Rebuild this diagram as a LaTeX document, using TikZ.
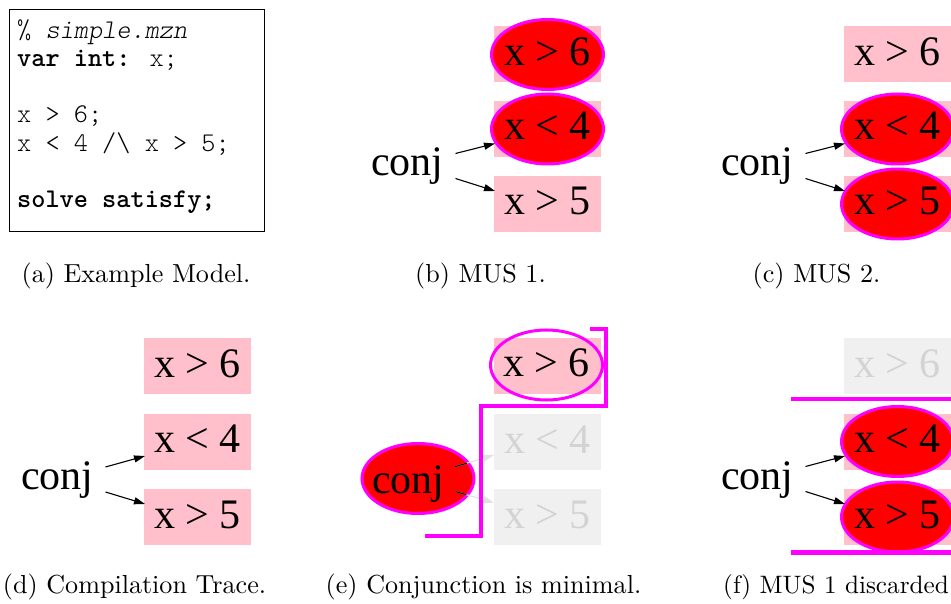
\documentclass[tikz,border=0pt]{standalone}
\usepackage{fontspec}
\usetikzlibrary{arrows.meta,shapes.geometric}
\setmainfont{lmroman10-regular.otf}
\newfontfamily\tms{Liberation Serif}
\newfontfamily\mono{lmmonolt10-regular.otf}[BoldFont=lmmonolt10-bold.otf, ItalicFont=lmmonolt10-oblique.otf]
\definecolor{cpink}{RGB}{255,192,203}
\definecolor{cmag}{RGB}{255,0,255}
\definecolor{cred}{RGB}{255,0,0}
\definecolor{cgbox}{RGB}{240,240,240}
\definecolor{cgtxt}{RGB}{211,211,211}
\definecolor{cgedge}{RGB}{225,225,225}
\newcommand\zw[1]{\makebox[0pt]{#1}}
\begin{document}
\begin{tikzpicture}[x=1pt,y=-1pt,
  gfont/.style={font=\tms\fontsize{42}{46}\selectfont},
  pinkrect/.style={rectangle, fill=cpink, minimum width=107pt, minimum height=56pt, inner sep=0pt},
  cbox/.style={pinkrect, gfont, text height=22pt, text depth=0pt},
  gbox/.style={cbox, fill=cgbox, text=cgtxt},
  hlell/.style={gfont, ellipse, fill=cred, draw=cmag, line width=3pt, minimum width=112pt, minimum height=70pt, inner sep=0pt, text height=22pt, text depth=0pt},
  conjt/.style={gfont, anchor=base, inner sep=0pt},
  arrline/.style={line width=1.1pt, -{Triangle[length=11pt,width=7pt]}},
  garrline/.style={line width=1.1pt, draw=cgedge, -{Triangle[length=11pt,width=7pt,fill=cgedge]}},
  codeline/.style={font=\mono\fontsize{27}{28.3}\selectfont, anchor=base west, inner sep=0pt},
  captxt/.style={font=\fontsize{26.1}{30}\selectfont, anchor=base, inner sep=0pt},
  magline/.style={draw=cmag, line width=4.5pt},
]
\useasboundingbox (0,0) rectangle (951,604);

% (a) code
\draw[line width=1pt] (9.5,9.5) rectangle (264.5,232);
\node[codeline] (l1) at (17,39) {{\upshape\%} \itshape simple.mzn};
\node[codeline] (l2) at (17,67) {\textbf{var int:} x;};
\node[codeline] (l3) at (17,123) {x > 6;};
\node[codeline] (l4) at (17,152) {x < 4 /\textbackslash{} x > 5;};
\node[codeline] (l5) at (17,208) {\textbf{solve satisfy;}};
\node[captxt] (capa) at (136,283) {(a) Example Model.};

% (b) MUS 1
\node[pinkrect] (b6r) at (547.5,54.5) {};
\node[hlell] (b6) at (b6r.center) {\zw{x > 6}};
\node[pinkrect] (b4r) at (547.5,129) {};
\node[hlell] (b4) at (b4r.center) {\zw{x < 4}};
\node[cbox] (b5) at (547.5,204) {x > 5};
\node[conjt] (bc) at (407.5,176) {conj};
\draw[arrline] ([shift={(48,-22.5)}]bc.base) -- ([shift={(-52.5,14.5)}]b4.center);
\draw[arrline] ([shift={(48,2.5)}]bc.base) -- ([shift={(-52.5,-13)}]b5.center);
\node[captxt] (capb) at (480.5,283) {(b) MUS 1.};

% (c) MUS 2
\node[cbox] (c6) at (897.5,54.5) {x > 6};
\node[pinkrect] (c4r) at (897.5,129) {};
\node[hlell] (c4) at (c4r.center) {\zw{x < 4}};
\node[pinkrect] (c5r) at (897.5,204) {};
\node[hlell] (c5) at (c5r.center) {\zw{x > 5}};
\node[conjt] (cc) at (757.5,176) {conj};
\draw[arrline] ([shift={(48,-22.5)}]cc.base) -- ([shift={(-52.5,14.5)}]c4.center);
\draw[arrline] ([shift={(48,2.5)}]cc.base) -- ([shift={(-52.5,-13)}]c5.center);
\node[captxt] (capc) at (816.5,283) {(c) MUS 2.};

% (d) Compilation trace
\node[cbox] (d6) at (197.5,366) {x > 6};
\node[cbox] (d4) at (197.5,441.5) {x < 4};
\node[cbox] (d5) at (197.5,517) {x > 5};
\node[conjt] (dc) at (57.5,489.5) {conj};
\draw[arrline] ([shift={(48,-22.5)}]dc.base) -- ([shift={(-52.5,14.5)}]d4.center);
\draw[arrline] ([shift={(48,2.5)}]dc.base) -- ([shift={(-52.5,-13)}]d5.center);
\node[captxt] (capd) at (134.5,593) {(d) Compilation Trace.};

% (e) Conjunction is minimal
\node[pinkrect] (e6r) at (547.5,366) {};
\node[hlell, fill=none] (e6) at (546.5,365) {\zw{x > 6}};
\node[gbox] (e4) at (547.5,442) {x < 4};
\node[gbox] (e5) at (547.5,517) {x > 5};
\node[hlell, text height=30pt] (ec) at (418,478.5) {\zw{\hspace*{-19pt}conj}};
\draw[garrline] ([shift={(37,-11.8)}]ec.center) -- ([shift={(-53.5,13)}]e4.center);
\draw[garrline] ([shift={(38,13.2)}]ec.center) -- ([shift={(-53.5,-14.3)}]e5.center);
\begin{scope}
  \clip (ec.center) ellipse [x radius=55pt, y radius=33.5pt];
  \draw[line width=1.1pt] ([shift={(37,-11.8)}]ec.center) -- ([shift={(-53.5,13)}]e4.center);
  \draw[line width=1.1pt] ([shift={(38,13.2)}]ec.center) -- ([shift={(-53.5,-14.3)}]e5.center);
\end{scope}
\draw[magline, line width=4pt] (590,329.3) -- (605.7,329.3) -- (605.7,406.3) -- (480.7,406.3) -- (480.7,535.7) -- (425,535.7);
\node[captxt] (cape) at (483.5,593) {(e) Conjunction is minimal.};

% (f) MUS 1 discarded
\node[gbox] (f6) at (897.5,366) {x > 6};
\node[pinkrect] (f4r) at (897.5,441.5) {};
\node[hlell] (f4) at (f4r.center) {\zw{x < 4}};
\node[pinkrect] (f5r) at (897.5,517) {};
\node[hlell] (f5) at (f5r.center) {\zw{x > 5}};
\node[conjt] (fc) at (757.5,489) {conj};
\draw[arrline] ([shift={(48,-22.5)}]fc.base) -- ([shift={(-52.5,14.5)}]f4.center);
\draw[arrline] ([shift={(48,2.5)}]fc.base) -- ([shift={(-52.5,-13)}]f5.center);
\draw[magline] (791,399) -- (951,399);
\draw[magline] (791,552.5) -- (951,552.5);
\node[captxt, font=\fontsize{25.2}{30}\selectfont, anchor=base west] (capf) at (723,593) {(f) MUS 1 discarded};
\end{tikzpicture}
\end{document}
